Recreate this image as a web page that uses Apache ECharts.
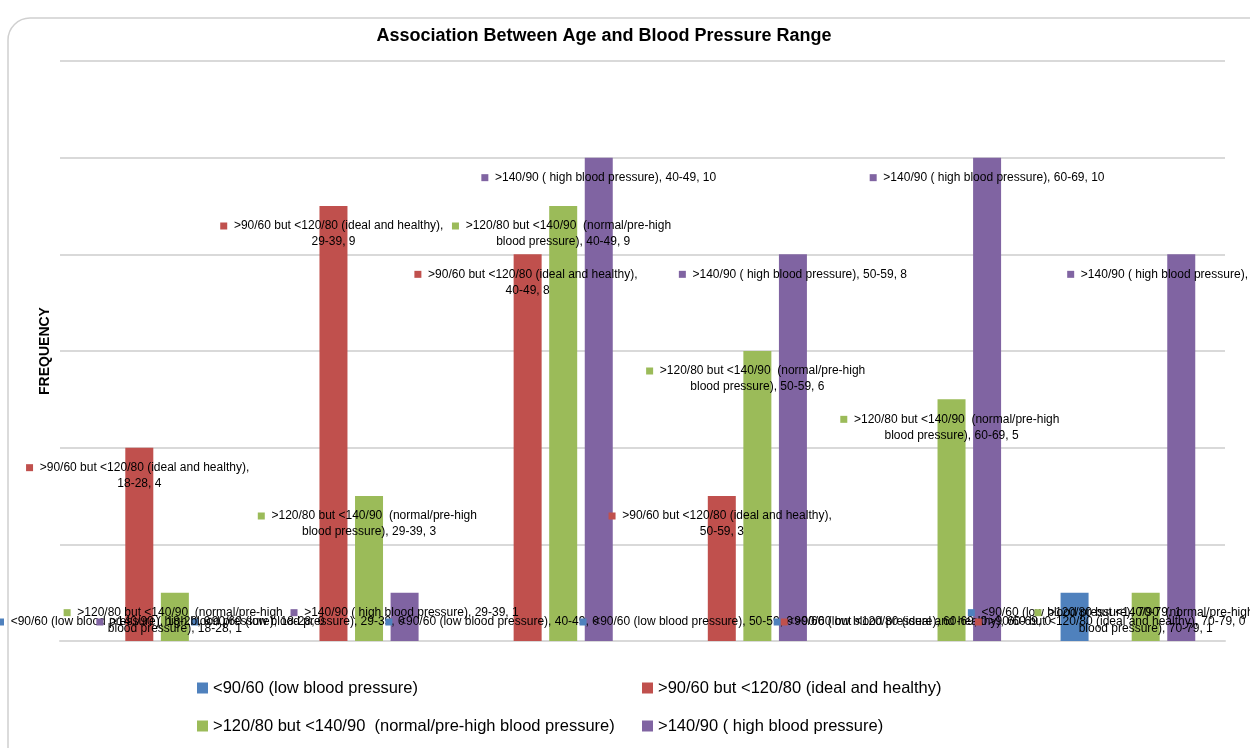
<!DOCTYPE html>
<html>
<head>
<meta charset="utf-8">
<script src="https://cdn.jsdelivr.net/npm/echarts@6/dist/echarts.min.js"></script>
<style>
  html, body { margin: 0; padding: 0; background: #fff; }
  #chart { width: 1250px; height: 748px; }
</style>
</head>
<body>
<div id="chart"></div>
<script>
var categories = ['18-28', '29-39', '40-49', '50-59', '60-69', '70-79'];
var seriesNames = [
    '<90/60 (low blood pressure)',
    '>90/60 but <120/80 (ideal and healthy)',
    '>120/80 but <140/90  (normal/pre-high blood pressure)',
    '>140/90 ( high blood pressure)'
];
var lowValues = [0, 0, 0, 0, 0, 1];
var idealValues = [4, 9, 8, 3, 0, 0];
var preHighValues = [1, 3, 9, 6, 5, 1];
var highValues = [0, 1, 10, 8, 10, 8];
var colors = ['#4f81bd', '#c0504d', '#9bbb59', '#8064a2'];

var font = 'Liberation Sans, Arial, sans-serif';

function makeSeries(idx, values) {
    var data = values.map(function (v) {
        var item = {value: v};
        // zero bars: excel puts the label as one line just above the axis
        if (v === 0) {
            item.label = {position: 'top', distance: 11, overflow: 'none', width: null};
        }
        return item;
    });
    return {
        name: seriesNames[idx],
        type: 'bar',
        barWidth: 28,
        barGap: '27%',
        barCategoryGap: '32%',
        itemStyle: {color: colors[idx]},
        data: data,
        label: {
            show: true,
            position: 'insideTop',
            distance: 12,
            width: 250,
            overflow: 'break',
            align: 'center',
            fontFamily: font,
            fontSize: 12,
            lineHeight: 16,
            color: '#000',
            formatter: function (p) {
                return '{sq|}  ' + p.seriesName + ', ' + p.name + ', ' + p.value;
            },
            rich: {
                sq: {width: 7, height: 7, backgroundColor: colors[idx]}
            }
        }
    };
}

var chart = echarts.init(document.getElementById('chart'));
chart.setOption({
    animation: false,
    backgroundColor: '#fff',
    title: {
        text: 'Association Between Age and Blood Pressure Range',
        left: 599,
        textAlign: 'center',
        top: 22,
        textStyle: {fontFamily: font, fontSize: 18, fontWeight: 'bold', color: '#000'}
    },
    graphic: [{
        type: 'rect',
        shape: {x: 8, y: 18, width: 1270, height: 770, r: 22},
        style: {fill: 'none', stroke: '#d0d0d0', lineWidth: 1.5},
        silent: true,
        z: -1
    }],
    legend: [{
        data: [seriesNames[0], seriesNames[2]],
        orient: 'vertical',
        left: 192,
        top: 673,
        icon: 'rect',
        itemWidth: 11,
        itemHeight: 11,
        itemGap: 18,
        textStyle: {fontFamily: font, fontSize: 16.5, lineHeight: 20, color: '#000'}
    }, {
        data: [seriesNames[1], seriesNames[3]],
        orient: 'vertical',
        left: 637,
        top: 673,
        icon: 'rect',
        itemWidth: 11,
        itemHeight: 11,
        itemGap: 18,
        textStyle: {fontFamily: font, fontSize: 16.5, lineHeight: 20, color: '#000'}
    }],
    grid: {left: 60, right: 25, top: 61, bottom: 107},
    xAxis: {
        type: 'category',
        data: categories,
        axisLine: {lineStyle: {color: '#d9d9d9', width: 2}},
        axisTick: {show: false},
        axisLabel: {show: false}
    },
    yAxis: {
        type: 'value',
        min: 0,
        max: 12,
        interval: 2,
        name: 'FREQUENCY',
        nameLocation: 'middle',
        nameGap: 8,
        nameTextStyle: {fontFamily: font, fontSize: 14, fontWeight: 'bold', color: '#000'},
        axisLine: {show: false},
        axisTick: {show: false},
        axisLabel: {show: false},
        splitLine: {lineStyle: {color: '#d9d9d9', width: 2}}
    },
    series: [
        makeSeries(0, lowValues),
        makeSeries(1, idealValues),
        makeSeries(2, preHighValues),
        makeSeries(3, highValues)
    ]
});
</script>
</body>
</html>
